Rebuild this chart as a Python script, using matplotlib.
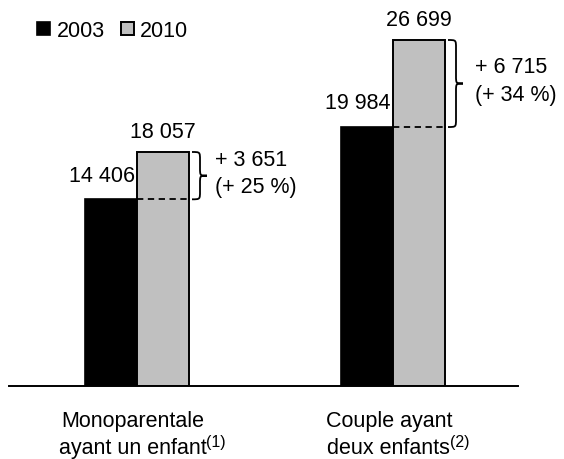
import matplotlib
matplotlib.use("Agg")
import matplotlib.pyplot as plt
from matplotlib.path import Path
from matplotlib.patches import PathPatch, Patch

plt.rcParams['font.family'] = ['Liberation Sans', 'DejaVu Sans']

# Données
categories = [("Monoparentale", "ayant un enfant", "(1)"),
              ("Couple ayant", "deux enfants", "(2)")]
annees = ["2003", "2010"]
v2003 = [14406, 19984]
v2010 = [18057, 26699]
ecarts = ["+ 3 651", "+ 6 715"]
pourcents = ["(+ 25 %)", "(+ 34 %)"]

def fmt(v):
    return f"{v:,}".replace(",", " ")

fig = plt.figure(figsize=(5.64, 4.6), dpi=100)
ax = fig.add_axes([9 / 564, 73 / 460, 509 / 564, 387 / 460])

ymax = 387 * max(v2010) / 346
px_x = 1 / 256          # 1 pixel en unités x
px_y = ymax / 387       # 1 pixel en unités y
larg = 52 * px_x
fs = 15.5

x = list(range(len(categories)))
noir = ax.bar([i - larg / 2 for i in x], v2003, width=larg, color="black",
              edgecolor="black", linewidth=1.2, label=annees[0])
gris = ax.bar([i + larg / 2 for i in x], v2010, width=larg, color="#c0c0c0",
              edgecolor="black", linewidth=1.4, label=annees[1])

for i in x:
    a, b = v2003[i], v2010[i]
    # étiquettes de valeurs
    ax.annotate(fmt(a), xy=(i, a), xytext=(-1.5, 13.5), textcoords="offset points",
                ha="right", va="baseline", fontsize=fs)
    ax.annotate(fmt(b), xy=(i + larg / 2, b), xytext=(0, 11), textcoords="offset points",
                ha="center", va="baseline", fontsize=fs)
    # trait pointillé au niveau 2003
    ax.plot([i, i + larg], [a, a], color="black", linestyle=(0, (3.5, 2.5)), linewidth=1.3)
    # accolade
    x0 = i + larg + 3 * px_x
    xv = x0 + 8 * px_x
    xt = x0 + 15 * px_x
    r = 8 * px_y
    ym = (a + b) / 2
    verts = [(x0, b), (xv, b), (xv, b), (xv, b - r),
             (xv, ym + r),
             (xv, ym), (xv, ym), (xt, ym),
             (xv, ym), (xv, ym), (xv, ym - r),
             (xv, a + r),
             (xv, a), (xv, a), (x0, a)]
    codes = [Path.MOVETO, Path.CURVE4, Path.CURVE4, Path.CURVE4,
             Path.LINETO,
             Path.CURVE4, Path.CURVE4, Path.CURVE4,
             Path.CURVE4, Path.CURVE4, Path.CURVE4,
             Path.LINETO,
             Path.CURVE4, Path.CURVE4, Path.CURVE4]
    ax.add_patch(PathPatch(Path(verts, codes), facecolor="none", edgecolor="black", linewidth=1.3))
    ax.annotate(ecarts[i], xy=(xt, ym), xytext=(6 + 3 * i, 8), textcoords="offset points",
                ha="left", va="baseline", fontsize=fs)
    ax.annotate(pourcents[i], xy=(xt, ym), xytext=(6 + 3 * i, -12), textcoords="offset points",
                ha="left", va="baseline", fontsize=fs)
    # libellés des catégories
    l1, l2, note = categories[i]
    ax.annotate(l1, xy=(i, 0), xycoords=("data", "axes fraction"), xytext=(-3, -29),
                textcoords="offset points", ha="center", va="baseline", fontsize=fs)
    t2 = ax.annotate(l2, xy=(i, 0), xycoords=("data", "axes fraction"), xytext=(-3, -48),
                     textcoords="offset points", ha="center", va="baseline", fontsize=fs)
    ax.annotate(note, xy=(1, 0), xycoords=t2, xytext=(-0.5, 6), textcoords="offset points",
                ha="left", va="bottom", fontsize=11.5)

ax.set_xlim(-128 * px_x, 1 + 125 * px_x)
ax.set_ylim(0, ymax)
for s in ["top", "right", "left"]:
    ax.spines[s].set_visible(False)
ax.spines["bottom"].set_linewidth(1.4)
ax.set_xticks([])
ax.set_yticks([])

handles = [Patch(facecolor="black", edgecolor="black", linewidth=1.2),
           Patch(facecolor="#c0c0c0", edgecolor="black", linewidth=1.4)]
fig.legend(handles, annees, loc="upper left", bbox_to_anchor=(37 / 564, 1 - 21 / 460),
           ncol=2, frameon=False, fontsize=fs, handlelength=0.6, handleheight=0.6,
           handletextpad=0.3, columnspacing=0.75, borderpad=0, borderaxespad=0)

fig.savefig("out.png", dpi=100)
